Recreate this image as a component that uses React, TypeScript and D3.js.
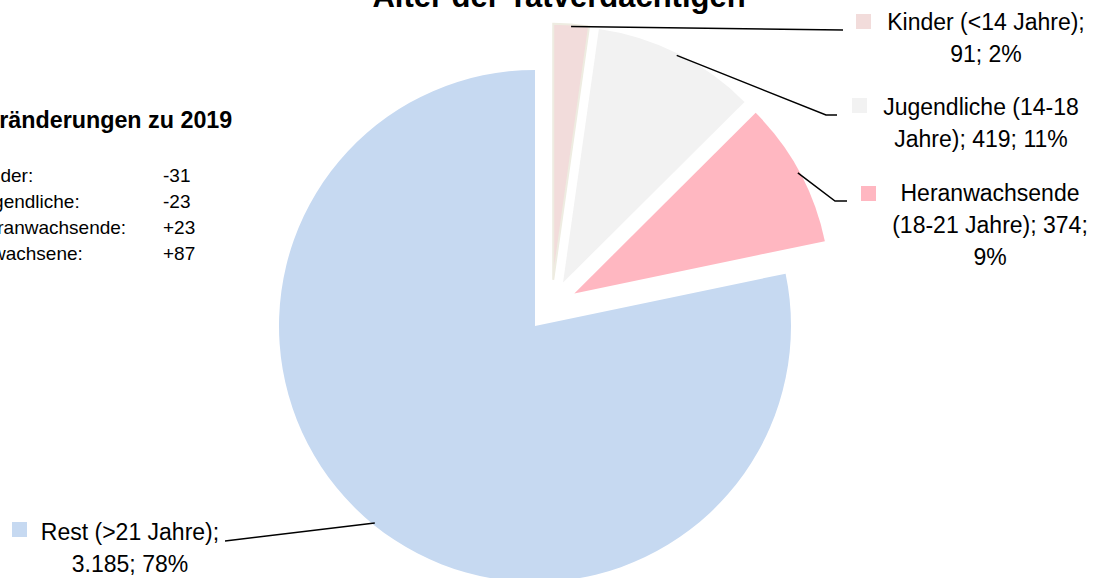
import React from "react";
import * as d3 from "d3";

// ---- data ----
const categories = ["Kinder (<14 Jahre)", "Jugendliche (14-18 Jahre)", "Heranwachsende (18-21 Jahre)", "Rest (>21 Jahre)"];
const values = [91, 419, 374, 3185];
const percentTexts = ["2%", "11%", "9%", "78%"];
const sliceColors = ["#F2DCDB", "#F2F2F2", "#FFB7C1", "#C6D9F1"];
const changeLabels = ["Kinder:", "Jugendliche:", "Heranwachsende:", "Erwachsene:"];
const changeValues = ["-31", "-23", "+23", "+87"];
const titleText = "Alter der Tatverdächtigen";
const boxTitle = "Veränderungen zu 2019";

// ---- layout ----
const W = 1096;
const H = 578;
const CX = 551.4;
const CY = 305.8;
const R = 256;
const EXPLODE = 26;
const FONT = "'Liberation Sans', Arial, sans-serif";

const labelLayout = [
  { cx: 986, y0: 30, wrap: [3, 2], marker: [856, 14], line: [[843, 30]] },
  { cx: 981, y0: 115, wrap: [2, 3], marker: [852, 98], line: [[826, 115], [837, 115]] },
  { cx: 990, y0: 201, wrap: [1, 3, 1], marker: [861, 186], line: [[835, 201], [847, 201]] },
  { cx: 130, y0: 540, wrap: [3, 2], marker: [12, 522], line: [[225, 541]] },
];

const deFormat = d3.formatLocale({ decimal: ",", thousands: ".", grouping: [3], currency: ["", "€"] }).format(",d");

export default function App() {
  const pie = d3.pie<number>().sort(null).startAngle(0).endAngle(2 * Math.PI);
  const arcs = pie(values);
  const arcGen = d3.arc<d3.PieArcDatum<number>>().innerRadius(0).outerRadius(R);

  return (
    <svg width={W} height={H} style={{ position: "absolute", left: 0, top: 0, background: "#fff" }} fontFamily={FONT}>
      <rect x={0} y={0} width={W} height={H} fill="#fff" />
      {/* title (cropped at top) */}
      <text x={559} y={7} textAnchor="middle" fontSize={31} fontWeight="bold" fill="#000">{titleText}</text>

      {/* left text box */}
      <text x={-28} y={128} fontSize={23.3} fontWeight="bold" fill="#000">{boxTitle}</text>
      {changeLabels.map((l, i) => (
        <g key={l}>
          <text x={-27} y={182 + i * 26} fontSize={19} fill="#000">{l}</text>
          <text x={163} y={182 + i * 26} fontSize={19} fill="#000">{changeValues[i]}</text>
        </g>
      ))}

      {/* slices */}
      {arcs.map((a, i) => {
        const mid = (a.startAngle + a.endAngle) / 2;
        const dx = EXPLODE * Math.sin(mid);
        const dy = -EXPLODE * Math.cos(mid);
        return (
          <path
            key={categories[i]}
            d={arcGen(a) || ""}
            transform={`translate(${CX + dx},${CY + dy})`}
            fill={sliceColors[i]}
            stroke={i === 0 ? "#EEECE1" : "none"}
            strokeWidth={i === 0 ? 2 : 0}
          />
        );
      })}

      {/* leader lines */}
      {arcs.map((a, i) => {
        const mid = (a.startAngle + a.endAngle) / 2;
        const ax = CX + EXPLODE * Math.sin(mid);
        const ay = CY - EXPLODE * Math.cos(mid);
        const sx = ax + (R - 2) * Math.sin(mid);
        const sy = ay - (R - 2) * Math.cos(mid);
        const pts = [[sx, sy], ...labelLayout[i].line];
        return (
          <path
            key={"l" + i}
            d={d3.line()(pts as [number, number][]) || ""}
            fill="none"
            stroke="#000"
            strokeWidth={1.5}
          />
        );
      })}

      {/* labels */}
      {arcs.map((a, i) => {
        const lay = labelLayout[i];
        const full = `${categories[i]}; ${deFormat(values[i])}; ${percentTexts[i]}`;
        const words = full.split(" ");
        const lines: string[] = [];
        let k = 0;
        lay.wrap.forEach((n) => {
          lines.push(words.slice(k, k + n).join(" "));
          k += n;
        });
        return (
          <g key={"t" + i}>
            <rect x={lay.marker[0]} y={lay.marker[1]} width={15} height={15} fill={sliceColors[i]} />
            {lines.map((ln, j) => (
              <text key={j} x={lay.cx} y={lay.y0 + j * 32} textAnchor="middle" fontSize={23} fill="#000">
                {ln}
              </text>
            ))}
          </g>
        );
      })}
    </svg>
  );
}
